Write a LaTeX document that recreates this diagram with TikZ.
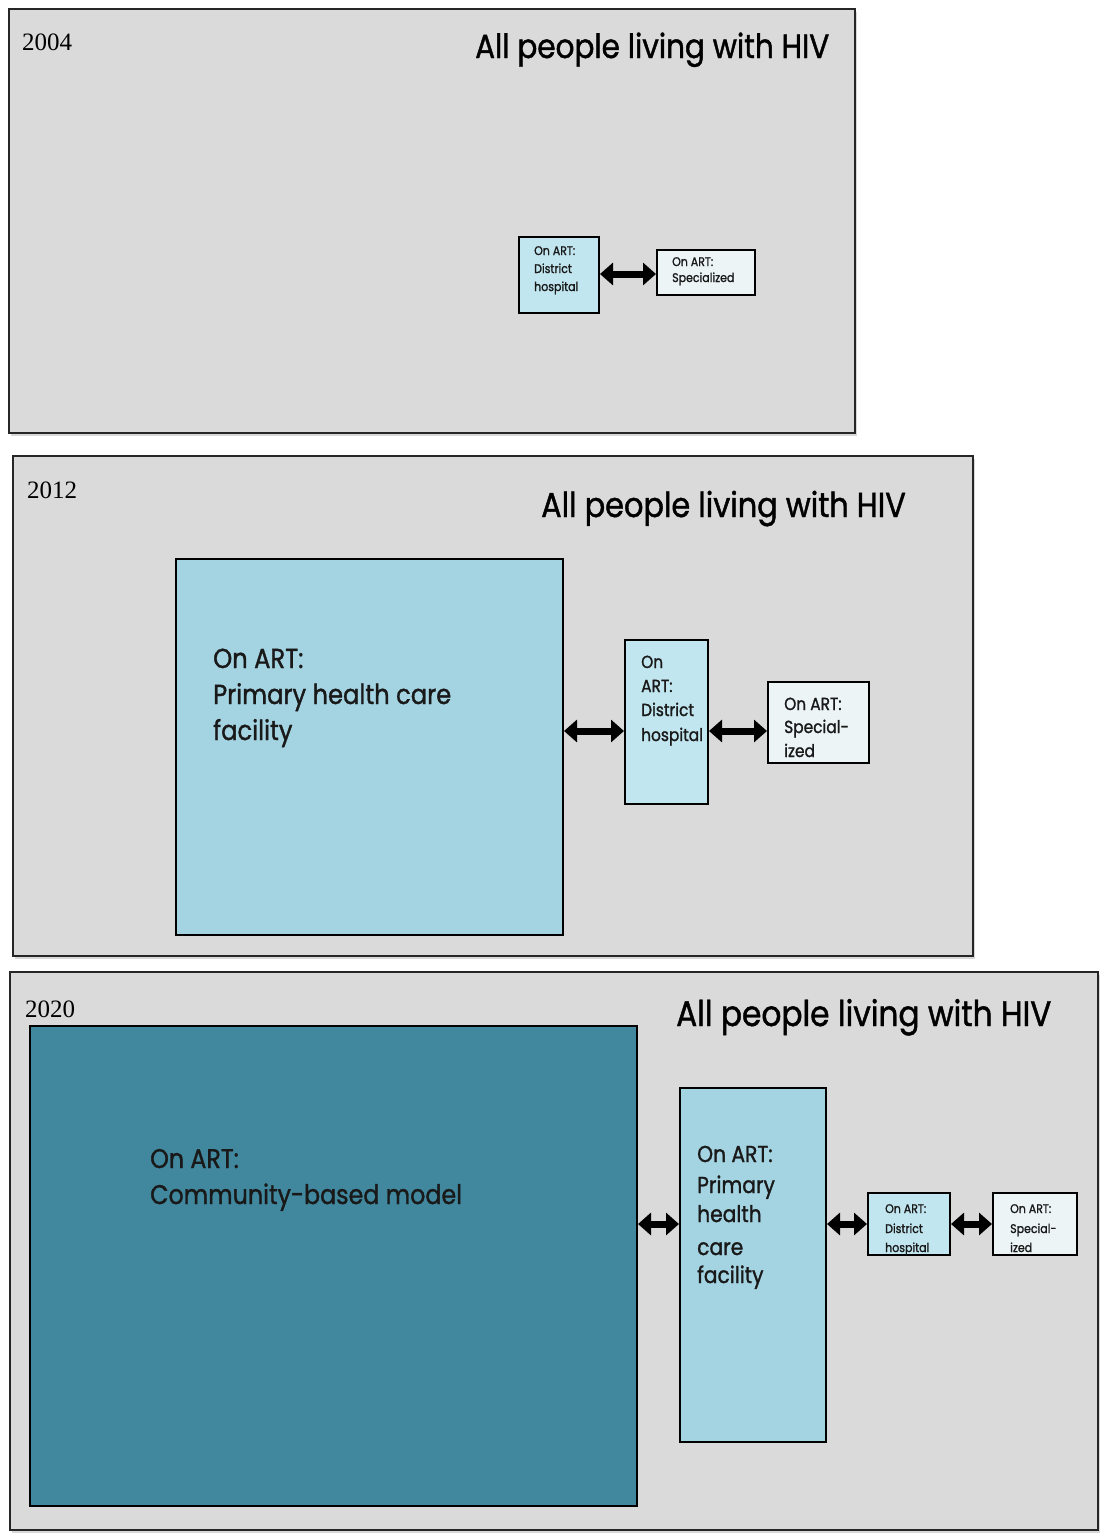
\documentclass[tikz,border=0pt]{standalone}
\usepackage{fontspec}
\newfontfamily\geo[FakeStretch=0.88,FakeBold=1.2]{Poppins}
\newfontfamily\yearfont{Liberation Serif}
\usetikzlibrary{arrows.meta,shadows}
\definecolor{panelgray}{HTML}{DADADA}
\definecolor{lightblue}{HTML}{A4D3E2}
\definecolor{paleblue}{HTML}{C2E6EF}
\definecolor{whiteblue}{HTML}{ECF4F6}
\definecolor{teal}{HTML}{41889F}
\tikzset{
  panel/.style={draw=black!85, line width=1.8pt, fill=panelgray, anchor=north west,
    inner sep=0pt, outer sep=0pt,
    drop shadow={shadow xshift=2pt, shadow yshift=-3pt, fill=black!30}},
  unitbox/.style={draw=black, line width=1.4pt, anchor=north west, inner sep=0pt, outer sep=0pt},
  yearlbl/.style={anchor=base west, inner sep=0pt, font=\yearfont\fontsize{25}{25}\selectfont},
  headline/.style={anchor=base west, inner sep=0pt, font=\geo\fontsize{#1}{#1}\selectfont},
  txt/.style={anchor=base west, inner sep=0pt, text=black!90},
  dbl/.style={line width=7pt, {Triangle[length=13pt,width=22pt]}-{Triangle[length=13pt,width=22pt]}, shorten <=1pt, shorten >=1pt},
}
\begin{document}
\begin{tikzpicture}[x=1pt,y=-1pt]
\useasboundingbox (0,0) rectangle (1101,1537);
\fill[white] (0,0) rectangle (1101,1537);

% ---------- 2004 ----------
\node[panel, minimum width=846pt, minimum height=424pt] (p1) at (9,9) {};
\node[yearlbl] (y1) at (22,50) {2004};
\node[headline=33.5] (h1) at (475,58) {All people living with HIV};
\node[unitbox, fill=paleblue, minimum width=80pt, minimum height=76pt] (d1) at (519,237) {};
\node[unitbox, fill=whiteblue, minimum width=98pt, minimum height=45pt] (s1) at (657,250) {};
\begin{scope}[font=\geo\fontsize{12.5}{12.5}\selectfont]
  \node[txt] (d1a) at (534,255) {On ART:};
  \node[txt] (d1b) at (534,273) {District};
  \node[txt] (d1c) at (534,291) {hospital};
  \node[txt] (s1a) at (672,266) {On ART:};
  \node[txt] (s1b) at (672,282) {Specialized};
\end{scope}
\coordinate (r1) at (0,274);
\draw[dbl] (d1.east |- r1) -- (s1.west |- r1);

% ---------- 2012 ----------
\node[panel, minimum width=960pt, minimum height=500pt] (p2) at (13,456) {};
\node[yearlbl] (y2) at (27,498) {2012};
\node[headline=34.5] (h2) at (541,517) {All people living with HIV};
\node[unitbox, fill=lightblue, minimum width=387pt, minimum height=376pt] (c2) at (176,559) {};
\node[unitbox, fill=paleblue, minimum width=83pt, minimum height=164pt] (d2) at (625,640) {};
\node[unitbox, fill=whiteblue, minimum width=101pt, minimum height=81pt] (s2) at (768,682) {};
\begin{scope}[font=\geo\fontsize{27.5}{27.5}\selectfont]
  \node[txt] (c2a) at (213,668) {On ART:};
  \node[txt] (c2b) at (213,704) {Primary health care};
  \node[txt] (c2c) at (213,740) {facility};
\end{scope}
\begin{scope}[font=\geo\fontsize{17.5}{17.5}\selectfont]
  \node[txt] (d2a) at (641,668) {On};
  \node[txt] (d2b) at (641,692) {ART:};
  \node[txt] (d2c) at (641,716) {District};
  \node[txt] (d2d) at (641,741) {hospital};
  \node[txt] (s2a) at (784,710) {On ART:};
  \node[txt] (s2b) at (784,733) {Special-};
  \node[txt] (s2c) at (784,757) {ized};
\end{scope}
\coordinate (r2) at (0,731);
\draw[dbl] (c2.east |- r2) -- (d2.west |- r2);
\draw[dbl] (d2.east |- r2) -- (s2.west |- r2);

% ---------- 2020 ----------
\node[panel, minimum width=1088pt, minimum height=558pt] (p3) at (10,972) {};
\node[yearlbl] (y3) at (25,1017) {2020};
\node[headline=35.5] (h3) at (676,1026) {All people living with HIV};
\node[unitbox, fill=teal, minimum width=607pt, minimum height=480pt] (m3) at (30,1026) {};
\node[unitbox, fill=lightblue, minimum width=146pt, minimum height=354pt] (c3) at (680,1088) {};
\node[unitbox, fill=paleblue, minimum width=82pt, minimum height=62pt] (d3) at (868,1193) {};
\node[unitbox, fill=whiteblue, minimum width=84pt, minimum height=62pt] (s3) at (993,1193) {};
\begin{scope}[font=\geo\fontsize{27}{27}\selectfont]
  \node[txt] (m3a) at (150,1168) {On ART:};
  \node[txt] (m3b) at (150,1204) {Community-based model};
\end{scope}
\begin{scope}[font=\geo\fontsize{23}{23}\selectfont]
  \node[txt] (c3a) at (697,1162) {On ART:};
  \node[txt] (c3b) at (697,1193) {Primary};
  \node[txt] (c3c) at (697,1222) {health};
  \node[txt] (c3d) at (697,1255) {care};
  \node[txt] (c3e) at (697,1283) {facility};
\end{scope}
\begin{scope}[font=\geo\fontsize{12.5}{12.5}\selectfont]
  \node[txt] (d3a) at (885,1213) {On ART:};
  \node[txt] (d3b) at (885,1233) {District};
  \node[txt] (d3c) at (885,1252) {hospital};
  \node[txt] (s3a) at (1010,1213) {On ART:};
  \node[txt] (s3b) at (1010,1233) {Special-};
  \node[txt] (s3c) at (1010,1252) {ized};
\end{scope}
\coordinate (r3) at (0,1224);
\draw[dbl] (m3.east |- r3) -- (c3.west |- r3);
\draw[dbl] (c3.east |- r3) -- (d3.west |- r3);
\draw[dbl] (d3.east |- r3) -- (s3.west |- r3);
\end{tikzpicture}
\end{document}
